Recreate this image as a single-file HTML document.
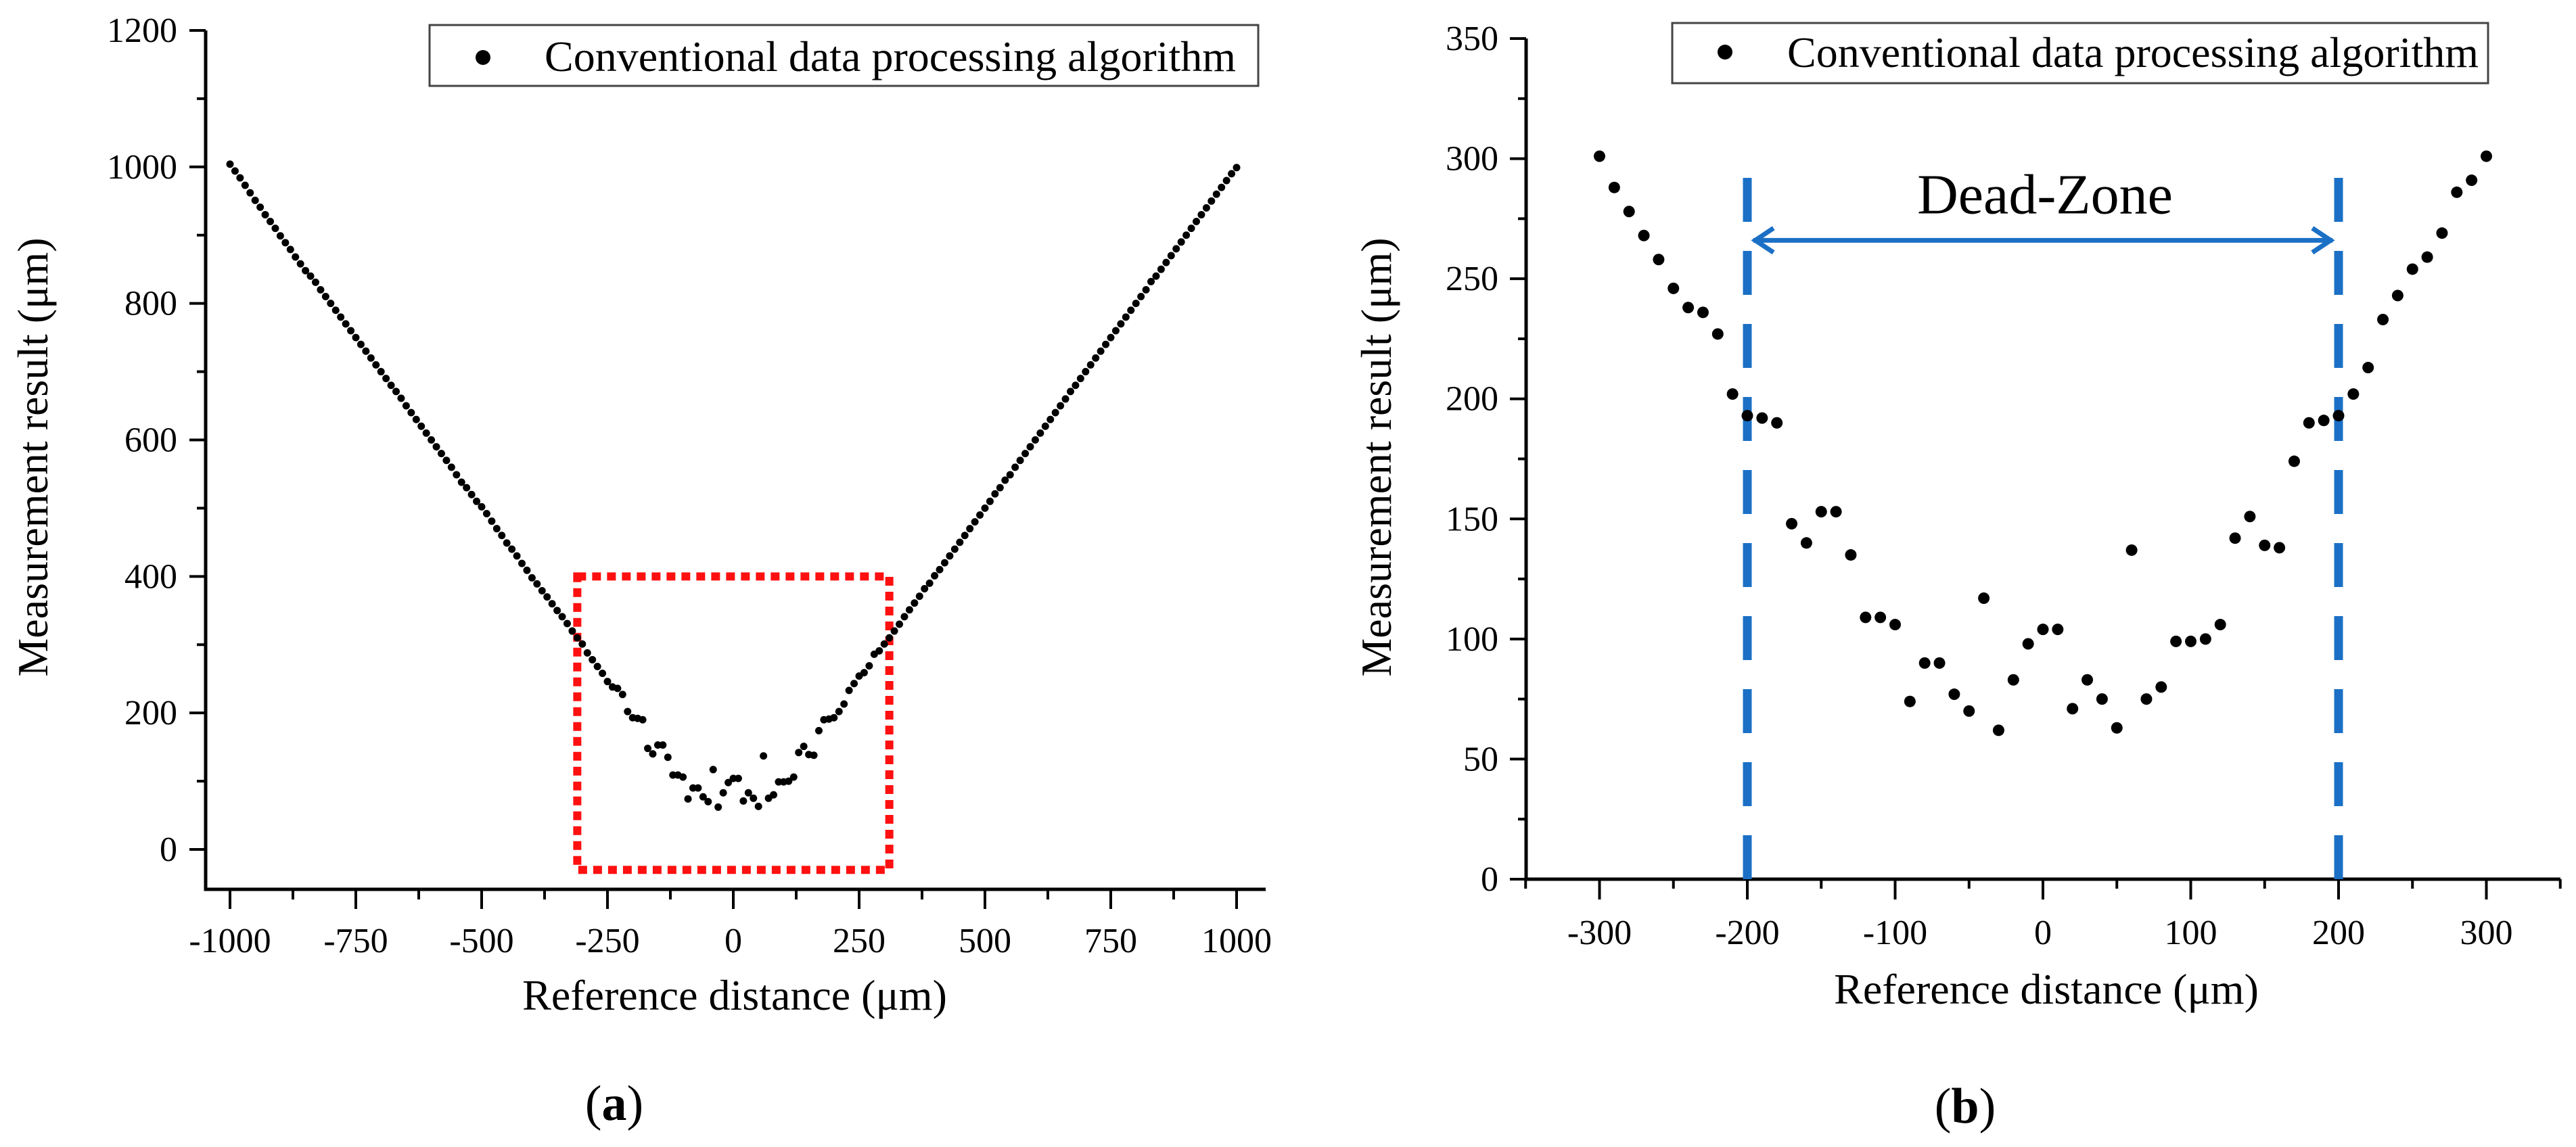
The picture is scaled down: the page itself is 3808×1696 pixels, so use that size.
<!DOCTYPE html>
<html><head><meta charset="utf-8"><style>
html,body{margin:0;padding:0;background:#fff}
svg{display:block}
text{font-family:"Liberation Serif","Times New Roman",serif;fill:#000}
</style></head><body>
<svg id="fig" width="3808" height="1696" viewBox="0 0 3808 1696" xmlns="http://www.w3.org/2000/svg">
<g id="pa"></g>
<g id="pb"></g>
</svg>
<script>
// ---------- data ----------
const aLeftX = [-1000,-990,-980,-970,-960,-950,-940,-930,-920,-910,-900,-890,-880,-870,-860,-850,-840,-830,-820,-810,-800,-790,-780,-770,-760,-750,-740,-730,-720,-710,-700,-690,-680,-670,-660,-650,-640,-630,-620,-610,-600,-590,-580,-570,-560,-550,-540,-530,-520,-510,-500,-490,-480,-470,-460,-450,-440,-430,-420,-410,-400,-390,-380,-370,-360,-350,-340,-330,-320,-310];
const aLeftY = [1004,994,984,973,962,951,941,930,920,910,899,889,879,868,858,848,840,831,820,810,800,790,780,770,760,750,740,730,720,710,700,690,680,671,661,650,640,630,620,610,600,590,580,570,560,549,538,530,520,510,502,492,481,470,460,449,440,430,419,409,398,389,379,370,360,350,341,331,320,310];
const aRightX = [310,320,330,340,350,360,370,380,390,400,410,420,430,440,450,460,470,480,490,500,510,520,530,540,550,560,570,580,590,600,610,620,630,640,650,660,670,680,690,700,710,720,730,740,750,760,770,780,790,800,810,820,830,840,850,860,870,880,890,900,910,920,930,940,950,960,970,980,990,1000];
const aRightY = [310,320,330,341,351,361,371,382,390,401,410,420,430,440,450,460,470,480,490,500,510,521,530,541,549,560,570,580,590,600,610,620,630,640,650,660,671,680,690,700,710,720,730,740,750,760,770,780,790,800,810,820,832,840,850,860,870,880,890,900,910,920,930,940,950,960,970,980,990,999];
const bX = [-300,-290,-280,-270,-260,-250,-240,-230,-220,-210,-200,-190,-180,-170,-160,-150,-140,-130,-120,-110,-100,-90,-80,-70,-60,-50,-40,-30,-20,-10,0,10,20,30,40,50,60,70,80,90,100,110,120,130,140,150,160,170,180,190,200,210,220,230,240,250,260,270,280,290,300];
const bY = [301,288,278,268,258,246,238,236,227,202,193,192,190,148,140,153,153,135,109,109,106,74,90,90,77,70,117,62,83,98,104,104,71,83,75,63,137,75,80,99,99,100,106,142,151,139,138,174,190,191,193,202,213,233,243,254,259,269,286,291,301];
const aXTicks = [-1000,-750,-500,-250,0,250,500,750,1000];
const aYTicks = [0,200,400,600,800,1000,1200];
const bXTicks = [-300,-200,-100,0,100,200,300];
const bYTicks = [0,50,100,150,200,250,300,350];
const deadZone = [-200,200];

const NS="http://www.w3.org/2000/svg";
function mk(parent,tag,attrs,txt){const e=document.createElementNS(NS,tag);for(const k in attrs)e.setAttribute(k,attrs[k]);if(txt!==undefined)e.textContent=txt;parent.appendChild(e);return e;}

// ---------- panel a ----------
const pa=document.getElementById('pa');
const axA={x0:1084,kx:0.744,y0:1256,ky:1.0092,left:304,bottom:1315,right:1871,top:45};
const AX=v=>axA.x0+v*axA.kx, AY=v=>axA.y0-v*axA.ky;
let e;
e=mk(pa,'path',{d:`M${axA.left} ${axA.top}V${axA.bottom}H${axA.right}`,stroke:'#000','stroke-width':5,fill:'none'});


for(let v=0;v<=1200;v+=100){
  const major=v%200===0;
  e=mk(pa,'line',{x1:axA.left-(major?24:13),x2:axA.left,y1:AY(v),y2:AY(v),stroke:'#000','stroke-width':4});
  
  
}
aYTicks.forEach(v=>{
  e=mk(pa,'text',{x:262,y:AY(v)+17,'text-anchor':'end','font-size':52},String(v));
  
  
});
for(let v=-1000;v<=1000;v+=125){
  const major=v%250===0;
  e=mk(pa,'line',{x1:AX(v),x2:AX(v),y1:axA.bottom,y2:axA.bottom+(major?29:15),stroke:'#000','stroke-width':4});
  
  
}
aXTicks.forEach(v=>{
  e=mk(pa,'text',{x:AX(v),y:1408,'text-anchor':'middle','font-size':52},String(v));
  
  
});
e=mk(pa,'text',{x:1086,y:1493,'text-anchor':'middle','font-size':64},'Reference distance (μm)');


e=mk(pa,'text',{x:0,y:0,'text-anchor':'middle','font-size':64,transform:'translate(70 676) rotate(-90)'},'Measurement result (μm)');


// red dotted box
e=mk(pa,'rect',{x:AX(-310),y:AY(400),width:AX(310)-AX(-310),height:AY(-30)-AY(400),fill:'none',stroke:'#ff1010','stroke-width':12,'stroke-dasharray':'13 9'});


const allAX=aLeftX.concat(bX,aRightX), allAY=aLeftY.concat(bY,aRightY);
allAX.forEach((x,i)=>{
  e=mk(pa,'circle',{cx:AX(x),cy:AY(allAY[i]),r:5.5,fill:'#000'});
  
  
});
// legend a
e=mk(pa,'rect',{x:635,y:37,width:1225,height:90,fill:'#fff',stroke:'#444','stroke-width':3});


e=mk(pa,'circle',{cx:714,cy:85,r:11,fill:'#000'});


e=mk(pa,'text',{x:805,y:105,'font-size':64},'Conventional data processing algorithm');


e=mk(pa,'text',{x:908,y:1656,'text-anchor':'middle','font-size':74},'');


mk(e,'tspan',{},'(');mk(e,'tspan',{'font-weight':'bold'},'a');mk(e,'tspan',{},')');

// ---------- panel b ----------
const pb=document.getElementById('pb');
const axB={x0:3020,kx:2.185,y0:1300,ky:3.5514,left:2256,right:3785,top:57};
const BX=v=>axB.x0+v*axB.kx, BY=v=>axB.y0-v*axB.ky;
e=mk(pb,'path',{d:`M${axB.left} ${axB.top}V${axB.y0}H${axB.right}`,stroke:'#000','stroke-width':5,fill:'none'});


for(let v=0;v<=350;v+=25){
  const major=v%50===0;
  e=mk(pb,'line',{x1:axB.left-(major?24:12),x2:axB.left,y1:BY(v),y2:BY(v),stroke:'#000','stroke-width':4});
  
  
}
bYTicks.forEach(v=>{
  e=mk(pb,'text',{x:2215,y:BY(v)+17,'text-anchor':'end','font-size':52},String(v));
  
  
});
for(let v=-350;v<=350;v+=50){
  const major=v%100===0;
  e=mk(pb,'line',{x1:BX(v),x2:BX(v),y1:axB.y0,y2:axB.y0+(major?30:14),stroke:'#000','stroke-width':4});
  
  
}
bXTicks.forEach(v=>{
  e=mk(pb,'text',{x:BX(v),y:1396,'text-anchor':'middle','font-size':52},String(v));
  
  
});
e=mk(pb,'text',{x:3025,y:1484,'text-anchor':'middle','font-size':64},'Reference distance (μm)');


e=mk(pb,'text',{x:0,y:0,'text-anchor':'middle','font-size':64,transform:'translate(2056 676) rotate(-90)'},'Measurement result (μm)');


// dead zone lines
deadZone.forEach(v=>{
  e=mk(pb,'line',{x1:BX(v),x2:BX(v),y1:BY(0),y2:BY(301),stroke:'#1b70c6','stroke-width':13,'stroke-dasharray':'65 43','stroke-dashoffset':'0'});
  
  
});
const ay=BY(266), ax1=BX(-196), ax2=BX(196);
e=mk(pb,'line',{x1:ax1,x2:ax2,y1:ay,y2:ay,stroke:'#1b70c6','stroke-width':7});


e=mk(pb,'path',{d:`M${ax1+30} ${ay-18}L${ax1+3} ${ay}L${ax1+30} ${ay+18}M${ax2-30} ${ay-18}L${ax2-3} ${ay}L${ax2-30} ${ay+18}`,stroke:'#1b70c6','stroke-width':7,fill:'none'});


e=mk(pb,'text',{x:3023,y:BY(266)-40,'text-anchor':'middle','font-size':84},'Dead-Zone');


bX.forEach((x,i)=>{
  e=mk(pb,'circle',{cx:BX(x),cy:BY(bY[i]),r:8.5,fill:'#000'});
  
  
});
// legend b
e=mk(pb,'rect',{x:2472,y:34,width:1206,height:89,fill:'#fff',stroke:'#444','stroke-width':3});


e=mk(pb,'circle',{cx:2550,cy:77,r:11,fill:'#000'});


e=mk(pb,'text',{x:2642,y:99,'font-size':64},'Conventional data processing algorithm');


e=mk(pb,'text',{x:2905,y:1660,'text-anchor':'middle','font-size':74},'');


mk(e,'tspan',{},'(');mk(e,'tspan',{'font-weight':'bold'},'b');mk(e,'tspan',{},')');
</script>
</body></html>
